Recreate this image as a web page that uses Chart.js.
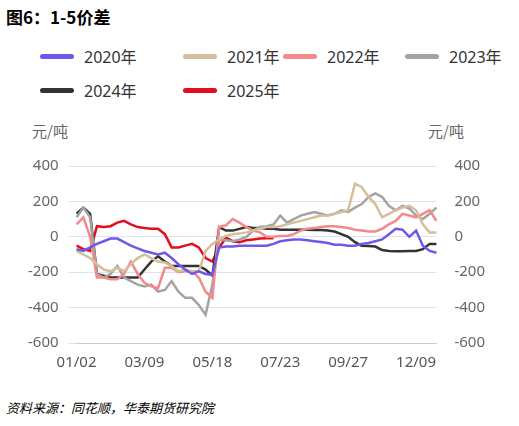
<!DOCTYPE html>
<html><head><meta charset="utf-8">
<script src="https://cdn.jsdelivr.net/npm/chart.js@4"></script>
<style>
body{margin:0;width:519px;height:426px;position:relative;font-family:"Noto Sans CJK SC","Noto Sans",sans-serif;background:#fff}
#t{position:absolute;left:6px;top:4px;font-size:17px;font-weight:bold;color:#000}
#src{position:absolute;left:6px;top:398px;font-size:13px;font-style:italic;color:#000}
.u{position:absolute;top:120px;font-size:15px;color:#666}
#c{position:absolute;left:0;top:147px;width:519px;height:228px}
.lg{position:absolute;font-size:16px;color:#333;font-family:"Noto Sans","Noto Sans CJK SC",sans-serif;display:flex;align-items:center;height:20px}
.lg i{display:inline-block;width:34px;height:5px;border-radius:3px;margin-right:10px}
</style></head><body>
<div id="t">图6：1-5价差</div>
<div id="lg"></div>
<div class="u" style="left:32px">元/吨</div>
<div class="u" style="left:428px">元/吨</div>
<div id="c"><canvas id="cv"></canvas></div>
<div id="src">资料来源：同花顺，华泰期货研究院</div>
<script>
const tickLabels=['01/02','03/09','05/18','07/23','09/27','12/09'];
const labels=Array.from({length:54},(_,i)=>i%10===0?tickLabels[i/10]:'');
const s2020=[-70,-80,-60,-40,-25,-10,-10,-30,-50,-65,-80,-90,-100,-90,-120,-155,-185,-210,-195,-210,-215,-60,-55,-55,-50,-50,-50,-50,-50,-40,-25,-20,-15,-15,-20,-25,-30,-35,-45,-45,-50,-50,-40,-35,-25,-15,15,45,40,0,35,-50,-80,-90];
const s2021=[-80,-100,-120,-155,-185,-195,-175,-195,-155,-120,-100,-120,-140,-145,-165,-195,-185,-195,-195,-80,-40,-15,5,15,18,25,35,45,55,55,60,70,80,90,100,110,120,120,130,140,150,300,280,225,185,110,130,150,165,175,150,70,25,25];
const s2022=[70,110,0,-230,-230,-240,-240,-210,-140,-210,-260,-280,-290,-175,-175,-200,-195,-195,-230,-310,-345,55,65,100,80,55,35,25,0,0,5,5,15,35,45,50,55,60,60,55,50,40,35,30,30,45,70,90,130,120,110,130,150,90];
const s2023=[110,165,110,-210,-230,-210,-165,-230,-250,-270,-280,-270,-310,-300,-250,-310,-345,-345,-385,-440,-270,-15,-20,-25,-15,0,35,55,60,70,120,80,100,120,130,140,130,120,130,150,140,165,185,225,245,225,175,150,175,160,120,100,130,165];
const s2024=[130,165,130,-210,-220,-230,-230,-230,-230,-230,-185,-140,-110,-140,-165,-165,-165,-165,-165,-185,-220,55,35,35,45,55,50,50,45,45,40,40,40,40,40,38,38,35,30,15,0,-30,-50,-52,-55,-75,-80,-82,-82,-80,-80,-70,-40,-40,-60];
const s2025=[-50,-70,-80,60,55,60,80,90,70,55,50,45,45,15,-60,-60,-50,-40,-60,-120,-140,-60,-5,-25,-30,-20,-15,-10,-8,-8];
const names=['2020年','2021年','2022年','2023年','2024年','2025年'];
const colors=['#6f58e9','#d4bf9a','#f4898b','#a3a3a3','#333333','#e0101e'];
const series=[s2020,s2021,s2022,s2023,s2024,s2025];
const pos=[[40,46],[183,46],[283,46],[405,46],[40,80],[183,80]];
document.getElementById('lg').innerHTML=names.map((n,k)=>`<div class="lg" style="left:${pos[k][0]}px;top:${pos[k][1]}px"><i style="background:${colors[k]}"></i>${n}</div>`).join('');
new Chart(document.getElementById('cv'),{type:'line',
data:{labels,datasets:series.map((d,k)=>({label:names[k],data:d,borderColor:colors[k],backgroundColor:colors[k],borderWidth:2.5,pointRadius:0,tension:0,fill:false}))},
options:{responsive:true,maintainAspectRatio:false,animation:false,
layout:{padding:{left:18,right:24,top:0,bottom:0}},
plugins:{legend:{display:false},tooltip:{enabled:false}},
scales:{
x:{grid:{display:false},border:{color:'#ccc'},ticks:{autoSkip:false,maxRotation:0,font:{size:15,family:'Noto Sans'},color:'#555',callback:(v,i)=>labels[i]}},
y:{min:-600,max:400,ticks:{stepSize:200,font:{size:15,family:'Noto Sans'},color:'#666',padding:10},grid:{color:'#dde2ee'},border:{display:false}},
y2:{position:'right',min:-600,max:400,ticks:{stepSize:200,font:{size:15,family:'Noto Sans'},color:'#666',padding:10},grid:{display:false},border:{display:false}}
}}});
</script></body></html>
